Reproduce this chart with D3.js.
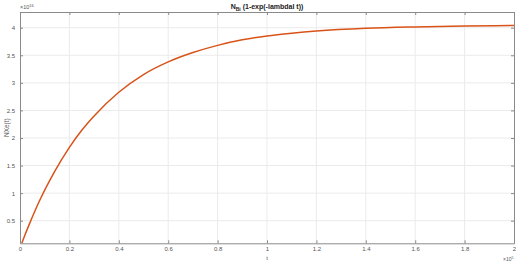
<!DOCTYPE html>
<html>
<head>
<meta charset="utf-8">
<script src="https://cdn.jsdelivr.net/npm/d3@7"></script>
<style>
  body { margin: 0; background: #fff; }
  text { font-family: "Liberation Sans", Arial, sans-serif; }
</style>
</head>
<body>
<div id="chart"></div>
<script>
// values (t in 1e5, N in 1e16)
const tValues = [0, 0.02, 0.04, 0.08, 0.14, 0.2, 0.25, 0.3, 0.4, 0.5, 0.6, 0.7, 0.8, 0.9, 1.0, 1.1, 1.2, 1.4, 1.6, 1.8, 2.0];
const nValues = [0, 0.24, 0.46, 0.87, 1.39, 1.83, 2.14, 2.40, 2.83, 3.15, 3.38, 3.55, 3.68, 3.78, 3.85, 3.90, 3.94, 3.99, 4.015, 4.03, 4.04];
const xTicks = [0, 0.2, 0.4, 0.6, 0.8, 1, 1.2, 1.4, 1.6, 1.8, 2];
const yTicks = [0.5, 1, 1.5, 2, 2.5, 3, 3.5, 4];

const W = 520, H = 261;
const plotLeft = 20, plotRight = 514, plotTop = 12, plotBottom = 243.3;

const svg = d3.select("#chart").append("svg")
  .attr("width", W)
  .attr("height", H);

const x = d3.scaleLinear().domain([0, 2]).range([plotLeft, plotRight]);
const y = d3.scaleLinear().domain([0.09, 4.285]).range([plotBottom, plotTop]);

const axisCol = "#8a8a8a";
const textCol = "#555";

// grid
svg.append("g").selectAll("line").data(xTicks.slice(1, -1)).enter().append("line")
  .attr("x1", d => x(d)).attr("x2", d => x(d))
  .attr("y1", plotTop).attr("y2", plotBottom)
  .attr("stroke", "#ebebeb").attr("stroke-width", 1);
svg.append("g").selectAll("line").data(yTicks).enter().append("line")
  .attr("x1", plotLeft).attr("x2", plotRight)
  .attr("y1", d => y(d)).attr("y2", d => y(d))
  .attr("stroke", "#ebebeb").attr("stroke-width", 1);

// curve
svg.append("defs").append("clipPath").attr("id", "clip")
  .append("rect").attr("x", plotLeft).attr("y", plotTop)
  .attr("width", plotRight - plotLeft).attr("height", plotBottom - plotTop);

const data = tValues.map((t, i) => ({ t: t, n: nValues[i] }));
const line = d3.line()
  .x(d => x(d.t))
  .y(d => y(d.n))
  .curve(d3.curveMonotoneX);

svg.append("path")
  .datum(data)
  .attr("clip-path", "url(#clip)")
  .attr("fill", "none")
  .attr("stroke", "#D95319")
  .attr("stroke-width", 1.5)
  .attr("d", line);

// axes (MATLAB style: ticks inward, box on)
const tick = 3;
const xb = svg.append("g")
  .attr("transform", `translate(0,${plotBottom})`)
  .call(d3.axisBottom(x).tickValues(xTicks).tickSizeInner(-tick).tickSizeOuter(0).tickPadding(3).tickFormat(d3.format("")));
const yl = svg.append("g")
  .attr("transform", `translate(${plotLeft},0)`)
  .call(d3.axisLeft(y).tickValues(yTicks).tickSizeInner(-tick).tickSizeOuter(0).tickPadding(5).tickFormat(d3.format("")));
const xt = svg.append("g")
  .attr("transform", `translate(0,${plotTop})`)
  .call(d3.axisTop(x).tickValues(xTicks).tickSizeInner(-tick).tickSizeOuter(0).tickFormat(""));
const yr = svg.append("g")
  .attr("transform", `translate(${plotRight},0)`)
  .call(d3.axisRight(y).tickValues(yTicks).tickSizeInner(-tick).tickSizeOuter(0).tickFormat(""));

[xb, yl, xt, yr].forEach(g => {
  g.select(".domain").attr("stroke", axisCol).attr("stroke-width", 1);
  g.selectAll(".tick line").attr("stroke", axisCol);
  g.selectAll(".tick text").attr("fill", textCol).attr("font-size", 6)
    .attr("font-family", "'Liberation Sans', Arial, sans-serif");
});

// labels
svg.append("text")
  .attr("x", 267).attr("y", 9)
  .attr("text-anchor", "middle")
  .attr("font-size", 7).attr("font-weight", "bold").attr("fill", "#222")
  .html('N<tspan font-size="5" dy="2">Bi</tspan><tspan dy="-2"> (1-exp(-lambdaI t))</tspan>');

svg.append("text")
  .attr("x", 267).attr("y", 260)
  .attr("text-anchor", "middle")
  .attr("font-size", 6).attr("fill", textCol)
  .text("t");

svg.append("text")
  .attr("transform", `translate(9,${(plotTop + plotBottom) / 2}) rotate(-90)`)
  .attr("text-anchor", "middle")
  .attr("font-size", 6.5).attr("fill", textCol)
  .text("NXe(t)");

svg.append("text")
  .attr("x", 20).attr("y", 9)
  .attr("font-size", 5.5).attr("fill", textCol)
  .html('\u00d710<tspan font-size="4" dy="-2">16</tspan>');

svg.append("text")
  .attr("x", 503).attr("y", 260.5)
  .attr("font-size", 5).attr("fill", textCol)
  .html('\u00d710<tspan font-size="3.5" dy="-2">5</tspan>');
</script>
</body>
</html>
